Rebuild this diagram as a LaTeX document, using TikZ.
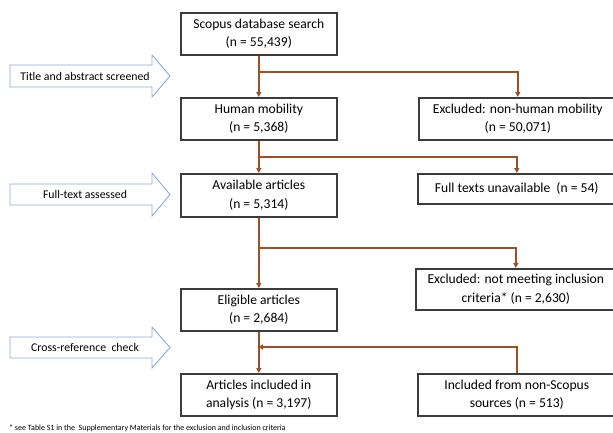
\documentclass[tikz,border=0pt]{standalone}
\usepackage{fontspec}
\setmainfont{Carlito}
\usetikzlibrary{arrows.meta,positioning}
\definecolor{flowbrown}{RGB}{160,78,38}
\definecolor{boxgrey}{RGB}{60,60,60}
\definecolor{arrowblue}{RGB}{141,170,214}
\tikzset{
  box/.style={draw=boxgrey, line width=1.6pt, align=center, inner sep=0pt,
    font=\fontsize{13.6}{18.5}\selectfont, anchor=north west},
  flow/.style={draw=flowbrown, line width=1.8pt, -{Triangle[length=5pt,width=5pt]}},
  blockarrow/.style={draw=arrowblue, line width=0.9pt, fill=white},
  blocktext/.style={font=\fontsize{11.8}{14}\selectfont, inner sep=0pt},
}
\begin{document}
\begin{tikzpicture}[x=1pt,y=-1pt]
\useasboundingbox (0,0) rectangle (613,432);
% main column boxes
\node[box, minimum width=156pt, minimum height=42pt] (scopus) at (180,12) {Scopus database search\\(n = 55,439)};
\node[box, minimum width=156pt, minimum height=42pt] (human) at (180,97) {Human mobility\\(n = 5,368)};
\node[box, minimum width=156pt, minimum height=43pt] (avail) at (180,173) {Available articles\\(n = 5,314)};
\node[box, minimum width=156pt, minimum height=42pt] (elig) at (180,288) {Eligible articles\\(n = 2,684)};
\node[box, minimum width=156pt, minimum height=42pt] (incl) at (180,373) {Articles included in\\analysis (n = 3,197)};
% right column boxes
\node[box, minimum width=198pt, minimum height=42pt] (exnh) at (418,97) {Excluded: non-human mobility\\(n = 50,071)};
\node[box, minimum width=198pt, minimum height=30pt] (fulltx) at (417,173) {Full texts unavailable\ \ (n = 54)};
\node[box, minimum width=200pt, minimum height=41pt] (exnm) at (415,268) {Excluded: not meeting inclusion\\criteria* (n = 2,630)};
\node[box, minimum width=198pt, minimum height=42pt] (nonsc) at (417,373) {Included from non-Scopus\\sources (n = 513)};
% branch points
\coordinate (b1) at (258,72);
\coordinate (b2) at (258,157);
\coordinate (b3) at (258,248);
\coordinate (b4) at (258,347);
% trunk
\draw[flow] (scopus.south) -- (human.north);
\draw[flow] (human.south) -- (avail.north);
\draw[flow] (avail.south) -- (elig.north);
\draw[flow] (elig.south) -- (incl.north);
% branches
\draw[flow] (b1) -| (exnh.north);
\draw[flow] (b2) -| (fulltx.north);
\draw[flow] (b3) -| (exnm.north);
\draw[flow] (nonsc.north) |- (b4);
% block arrows
\draw[blockarrow] (10,65) -- (152,65) -- (152,55) -- (170,76) -- (152,97) -- (152,87) -- (10,87) -- cycle;
\node[blocktext] (t1) at (85,76) {Title and abstract screened};
\draw[blockarrow] (10,184) -- (152,184) -- (152,173) -- (170,194.5) -- (152,216) -- (152,205) -- (10,205) -- cycle;
\node[blocktext] (t2) at (85,194.5) {Full-text assessed};
\draw[blockarrow] (10,337) -- (152,337) -- (152,327) -- (170,347.5) -- (152,368) -- (152,358) -- (10,358) -- cycle;
\node[blocktext] (t3) at (85,347.5) {Cross-reference\ \ check};
% footnote
\node[anchor=west, inner sep=0pt, font=\fontsize{8}{9}\selectfont] (fn) at (9,428) {* see Table S1 in the\ \ Supplementary Materials for the exclusion and inclusion criteria};
\end{tikzpicture}
\end{document}
